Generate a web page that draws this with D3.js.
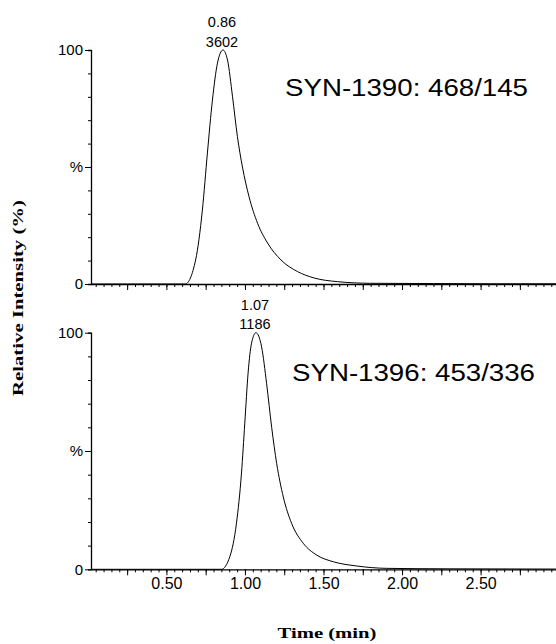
<!DOCTYPE html>
<html><head><meta charset="utf-8">
<script src="https://cdn.jsdelivr.net/npm/d3@7/dist/d3.min.js"></script>
<style>
html,body{margin:0;padding:0;background:#fff;}
svg{display:block;}
</style></head>
<body>
<script>
// ---- data ----
const topTime = [0.02, 0.62, 0.686, 0.729, 0.761, 0.793, 0.825, 0.86, 0.889, 0.921, 0.952, 0.984, 1.026, 1.08, 1.144, 1.229, 1.335, 1.439, 1.59, 1.80, 2.2, 2.6, 2.98];
const topIntensity = [0, 0, 10.3, 31.6, 56, 78.6, 94.4, 100, 95.7, 80, 63, 50, 37.3, 26, 17.5, 10.3, 5.3, 2.6, 1.0, 0.3, 0.2, 0.1, 0.1];
const botTime = [0.02, 0.85, 0.904, 0.946, 0.978, 0.999, 1.020, 1.042, 1.07, 1.106, 1.138, 1.170, 1.202, 1.244, 1.297, 1.371, 1.457, 1.562, 1.712, 1.903, 2.3, 2.98];
const botIntensity = [0, 0, 5.4, 19.5, 40.7, 61.8, 83, 95.6, 100, 94, 78.4, 60, 44.7, 30.6, 19.4, 11, 6, 3.2, 1.4, 0.4, 0.2, 0.1];
const panelTitles = ["SYN-1390: 468/145", "SYN-1396: 453/336"];
const peakTimes = ["0.86", "1.07"];
const peakCounts = ["3602", "1186"];
const xTickValues = [0.25, 0.50, 0.75, 1.00, 1.25, 1.50, 1.75, 2.00, 2.25, 2.50, 2.75];
const xLabelValues = [0.50, 1.00, 1.50, 2.00, 2.50];
const yTickValues = [0, 10, 20, 30, 40, 50, 60, 70, 80, 90, 100];
const yLabels = {0: "0", 50: "%", 100: "100"};
const xTitle = "Time (min)";
const yTitle = "Relative Intensity (%)";

const W = 556, H = 644;
const svg = d3.select("body").append("svg").attr("width", W).attr("height", H);

const x = d3.scaleLinear().domain([0.02, 2.98]).range([91, 556]);
const minorX = d3.range(0.05, 2.98, 0.05).map(v => +v.toFixed(2));

const panels = [
  {time: topTime, inten: topIntensity, y0: 284, y1: 50, labels: false, title: panelTitles[0], tx: 285, ty: 96, pt: peakTimes[0], pc: peakCounts[0], pk: 0.86},
  {time: botTime, inten: botIntensity, y0: 569.3, y1: 332.7, labels: true, title: panelTitles[1], tx: 292, ty: 381, pt: peakTimes[1], pc: peakCounts[1], pk: 1.07}
];

const sans = "'Liberation Sans', Arial, sans-serif";
const serif = "'Liberation Serif', 'Times New Roman', serif";

panels.forEach(p => {
  const y = d3.scaleLinear().domain([0, 100]).range([p.y0, p.y1]);
  const g = svg.append("g");

  // minor x ticks
  g.append("g").attr("transform", `translate(0,${p.y0})`)
    .call(d3.axisBottom(x).tickValues(minorX).tickSize(3).tickFormat("").tickSizeOuter(0))
    .call(a => a.select(".domain").remove());
  // major x ticks
  const ax = g.append("g").attr("transform", `translate(0,${p.y0})`)
    .call(d3.axisBottom(x).tickValues(xTickValues).tickSize(6).tickSizeOuter(0)
      .tickFormat(d => (p.labels && xLabelValues.some(v => Math.abs(v - d) < 1e-6)) ? d3.format(".2f")(d) : ""));
  ax.select(".domain").attr("stroke", "#000").attr("stroke-width", 1.3);
  ax.selectAll(".tick line").attr("stroke", "#000");
  ax.selectAll(".tick text").attr("font-family", sans).attr("font-size", 16)
    .attr("fill", "#000").attr("dy", "1.05em").attr("y", 3);

  // y axis
  const ay = g.append("g").attr("transform", `translate(91,0)`)
    .call(d3.axisLeft(y).tickValues(yTickValues).tickSizeOuter(0)
      .tickSize(3).tickFormat(d => yLabels[d] || ""));
  ay.select(".domain").attr("stroke", "#000").attr("stroke-width", 1.3);
  ay.selectAll(".tick line").attr("stroke", "#000")
    .attr("x2", d => yLabels[d] !== undefined ? -6 : -3);
  ay.selectAll(".tick text").attr("font-family", sans).attr("font-size", 15)
    .attr("fill", "#000").attr("x", -8);

  // trace
  const line = d3.line().x((d, i) => x(p.time[i])).y((d, i) => y(p.inten[i])).curve(d3.curveMonotoneX);
  g.append("path").datum(p.inten).attr("d", line)
    .attr("fill", "none").attr("stroke", "#000").attr("stroke-width", 1);

  // peak labels
  g.append("text").attr("x", x(p.pk) - 1).attr("y", y(100) - 23)
    .attr("text-anchor", "middle").attr("font-family", sans).attr("font-size", 14.5).text(p.pt);
  g.append("text").attr("x", x(p.pk) - 1).attr("y", y(100) - 3.5)
    .attr("text-anchor", "middle").attr("font-family", sans).attr("font-size", 14.5).text(p.pc);

  // panel title
  g.append("text").attr("x", p.tx).attr("y", p.ty)
    .attr("font-family", sans).attr("font-size", 23)
    .attr("textLength", 243).attr("lengthAdjust", "spacingAndGlyphs").text(p.title);
});

// axis titles
svg.append("text").attr("transform", "translate(23,298) rotate(-90)")
  .attr("text-anchor", "middle").attr("font-family", serif).attr("font-weight", "bold")
  .attr("font-size", 15).attr("textLength", 196).attr("lengthAdjust", "spacingAndGlyphs").text(yTitle);
svg.append("text").attr("x", 327).attr("y", 638)
  .attr("text-anchor", "middle").attr("font-family", serif).attr("font-weight", "bold")
  .attr("font-size", 15).attr("textLength", 99).attr("lengthAdjust", "spacingAndGlyphs").text(xTitle);
</script>
</body></html>
